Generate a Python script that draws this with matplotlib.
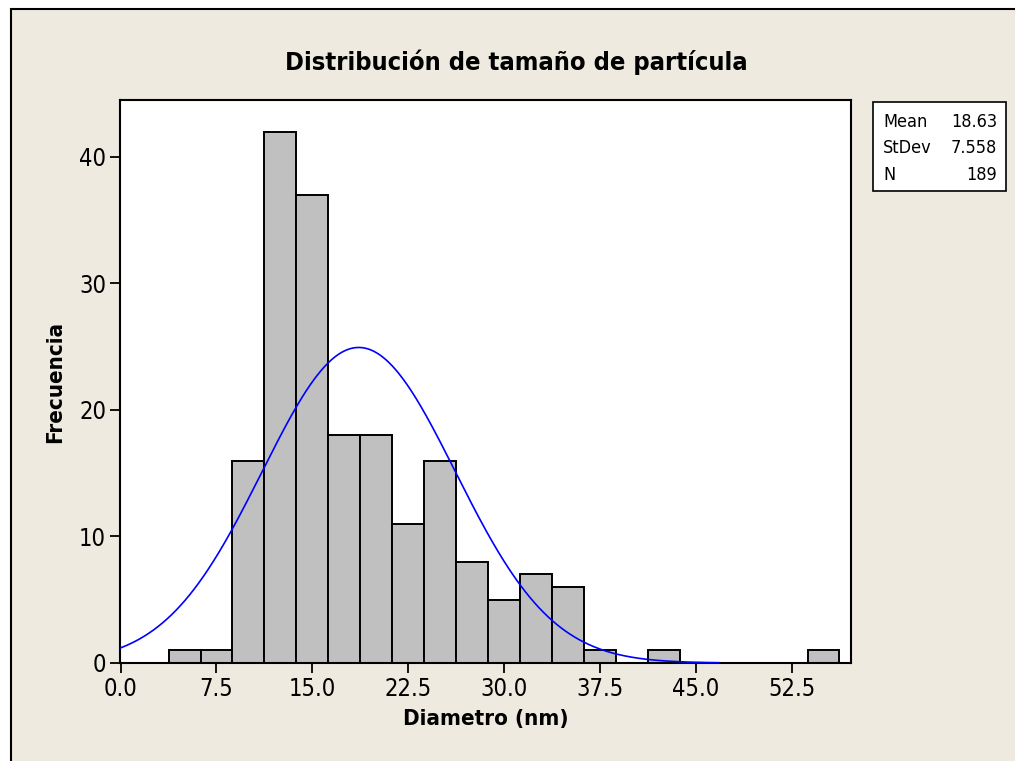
import numpy as np
import matplotlib
matplotlib.use("Agg")
import matplotlib.pyplot as plt
from matplotlib.patches import Rectangle

# bin centres (nm) and counts per bin
bin_centers = [5.0, 7.5, 10.0, 12.5, 15.0, 17.5, 20.0, 22.5, 25.0, 27.5,
               30.0, 32.5, 35.0, 37.5, 40.0, 42.5, 45.0, 47.5, 50.0, 52.5, 55.0]
counts = [1, 1, 16, 42, 37, 18, 18, 11, 16, 8,
          5, 7, 6, 1, 0, 1, 0, 0, 0, 0, 1]
bin_width = 2.5

mean = 18.63
stdev = 7.558
n_obs = 189

xticks = [0.0, 7.5, 15.0, 22.5, 30.0, 37.5, 45.0, 52.5]
yticks = [0, 10, 20, 30, 40]

BG = "#EEEAE0"
FONT = dict(family="DejaVu Sans", stretch="condensed")

fig = plt.figure(figsize=(10.15, 7.61), dpi=100)
fig.patch.set_facecolor("white")
# beige panel with black outline, behind everything
fig.patches.append(Rectangle((11 / 1015, -0.05), 1.1, (761 - 9) / 761 + 0.05,
                             transform=fig.transFigure, facecolor=BG,
                             edgecolor="black", linewidth=1.5, zorder=-10))

ax = fig.add_axes([120 / 1015, (761 - 663) / 761, 731 / 1015, 563 / 761])
ax.set_facecolor("white")

ax.bar(bin_centers, counts, width=bin_width, color="#C0C0C0",
       edgecolor="black", linewidth=1.4, zorder=2)

# fitted normal curve scaled to counts
xs = np.linspace(0, 46.8, 400)
ys = n_obs * bin_width / (stdev * np.sqrt(2 * np.pi)) * np.exp(-0.5 * ((xs - mean) / stdev) ** 2)
ax.plot(xs, ys, color="#0000FF", linewidth=1.2, zorder=3)

ax.set_xlim(-0.05, 57.15)
ax.set_ylim(0, 44.5)
ax.set_xticks(xticks)
ax.set_xticklabels([f"{t:.1f}" for t in xticks], fontsize=17, **FONT)
ax.set_yticks(yticks)
ax.set_yticklabels([str(t) for t in yticks], fontsize=17, **FONT)
ax.tick_params(direction="out", length=7, width=1.3, color="black", pad=3)
for s in ax.spines.values():
    s.set_linewidth(1.5)

ax.set_xlabel("Diametro (nm)", fontsize=16, fontweight="bold", labelpad=6, **FONT)
ax.set_ylabel("Frecuencia", fontsize=16, fontweight="bold", labelpad=10, **FONT)

fig.text(516 / 1015, 1 - 62 / 761, "Distribución de tamaño de partícula",
         ha="center", va="center", fontsize=18.3, fontweight="bold", **FONT)

# summary statistics box
box_l, box_t, box_r, box_b = 873, 102, 1006, 191
fig.patches.append(Rectangle((box_l / 1015, 1 - box_b / 761), (box_r - box_l) / 1015,
                             (box_b - box_t) / 761, transform=fig.transFigure,
                             facecolor="white", edgecolor="black", linewidth=1.2, zorder=1))
rows = [("Mean", f"{mean:.2f}"), ("StDev", f"{stdev:.3f}"), ("N", f"{n_obs}")]
for i, (lab, val) in enumerate(rows):
    y = 1 - (121.7 + i * 26.7) / 761
    fig.text(883 / 1015, y, lab, ha="left", va="center", fontsize=13, **FONT)
    fig.text(997 / 1015, y, val, ha="right", va="center", fontsize=13, **FONT)

fig.savefig("out.png", dpi=100, facecolor=fig.get_facecolor())
